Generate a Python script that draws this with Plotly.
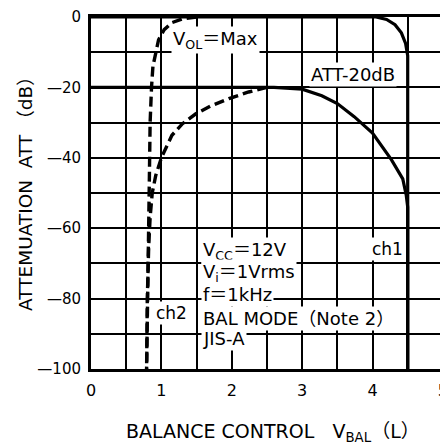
import plotly.graph_objects as go

# ---- data ----
ch1_max_x = [0, 4.05, 4.2, 4.32, 4.41, 4.47, 4.5, 4.5]
ch1_max_y = [0, 0, -0.7, -2.2, -4.5, -7.5, -11, -100]

ch1_att_x = [0, 2.6, 3.0, 3.28, 3.5, 3.74, 4.0, 4.27, 4.43, 4.48, 4.5, 4.5]
ch1_att_y = [-20, -20, -20.5, -22.4, -24.6, -28.3, -33, -40.6, -46, -50.7, -54, -100]

ch2_max_x = [1.5, 1.3, 1.15, 1.04, 0.96, 0.92, 0.88, 0.86, 0.84, 0.83, 0.81, 0.79]
ch2_max_y = [0, -0.5, -1.6, -3.6, -6.5, -9.8, -14, -20, -30, -45, -70, -100]

ch2_att_x = [2.5, 2.24, 1.96, 1.7, 1.49, 1.3, 1.15, 1.0, 0.92, 0.87, 0.84, 0.82, 0.80, 0.79]
ch2_att_y = [-20, -21.3, -23.2, -25.3, -27.5, -30.3, -33.6, -40, -45, -50, -57, -65, -80, -100]

x_tickvals = [0, 1, 2, 3, 4, 5]
x_ticktext = ["0", "1", "2", "3", "4", "5"]
y_tickvals = [-100, -80, -60, -40, -20, 0]
y_ticktext = ["\u2014100", "\u201480", "\u201460", "\u201440", "\u201420", "0"]

FONT = "DejaVu Sans, Noto Sans CJK JP, sans-serif"

fig = go.Figure()
solid = dict(color="black", width=3.2)
dashed = dict(color="black", width=3.4, dash="10px,5px")
fig.add_trace(go.Scatter(x=ch1_max_x, y=ch1_max_y, mode="lines", line=solid, name="ch1 VOL=Max"))
fig.add_trace(go.Scatter(x=ch1_att_x, y=ch1_att_y, mode="lines", line=solid, name="ch1 ATT-20dB"))
fig.add_trace(go.Scatter(x=ch2_max_x, y=ch2_max_y, mode="lines", line=dashed, name="ch2 VOL=Max"))
fig.add_trace(go.Scatter(x=ch2_att_x, y=ch2_att_y, mode="lines", line=dashed, name="ch2 ATT-20dB"))

def label(text, x, y, size=17, xanchor="left"):
    fig.add_annotation(x=x, y=y, xref="x", yref="y", text=text, showarrow=False,
                       xanchor=xanchor, yanchor="middle", bgcolor="white", borderpad=1,
                       font=dict(family=FONT, size=size, color="black"))

label("V<sub>OL</sub>\uff1dMax", 1.13, -6.6, size=18)
label("ATT-20dB", 3.72, -16.2, size=18, xanchor="center")
label("ch1", 4.21, -65.8, size=17, xanchor="center")
label("ch2", 1.14, -84.0, size=17, xanchor="center")
label("V<sub>CC</sub>\uff1d12V", 1.57, -66.4, size=18)
label("V<sub>i</sub>\uff1d1Vrms", 1.57, -72.6, size=18)
label("f\uff1d1kHz", 1.57, -78.9, size=18)
label("BAL MODE\uff08Note 2\uff09", 1.57, -85.6, size=18)
label("JIS-A", 1.57, -91.2, size=18)

fig.add_annotation(xref="paper", yref="paper", x=-0.185, y=0.51,
                   text="ATTEMUATION\u00a0\u00a0ATT\u00a0\uff08dB\uff09", textangle=-90,
                   showarrow=False, xanchor="center", yanchor="middle",
                   font=dict(family=FONT, size=18.5, color="black"))
fig.add_annotation(xref="paper", yref="paper", x=0.515, y=-0.179,
                   text="BALANCE CONTROL\u00a0\u00a0\u00a0V<sub>BAL</sub>\uff08L\uff09",
                   showarrow=False, xanchor="center", yanchor="middle",
                   font=dict(family=FONT, size=19, color="black"))

# the page adds an 8px body margin, so the figure is 440x440 and offset
fig.update_layout(
    width=440, height=440,
    margin=dict(l=83, r=0, t=4, b=79),
    paper_bgcolor="white", plot_bgcolor="white",
    showlegend=False,
    font=dict(family=FONT, size=16, color="black"),
)
grid = dict(showgrid=True, gridcolor="black", gridwidth=1.6)
fig.update_xaxes(range=[0, 5.03], tickmode="array", tickvals=x_tickvals, ticktext=x_ticktext,
                 zeroline=False, showline=True, mirror=True, linecolor="black", linewidth=3,
                 ticks="", ticklabelstandoff=5, ticklabeloverflow="allow", tickfont=dict(size=16),
                 minor=dict(tick0=0, dtick=0.5, **grid), **grid)
fig.update_yaxes(range=[-100, 0], tickmode="array", tickvals=y_tickvals, ticktext=y_ticktext,
                 zeroline=False, showline=True, mirror=False, linecolor="black", linewidth=3,
                 ticks="", ticklabelstandoff=4, ticklabeloverflow="allow", tickfont=dict(size=15),
                 minor=dict(tick0=0, dtick=10, **grid), **grid)

fig.write_html("out.html")
